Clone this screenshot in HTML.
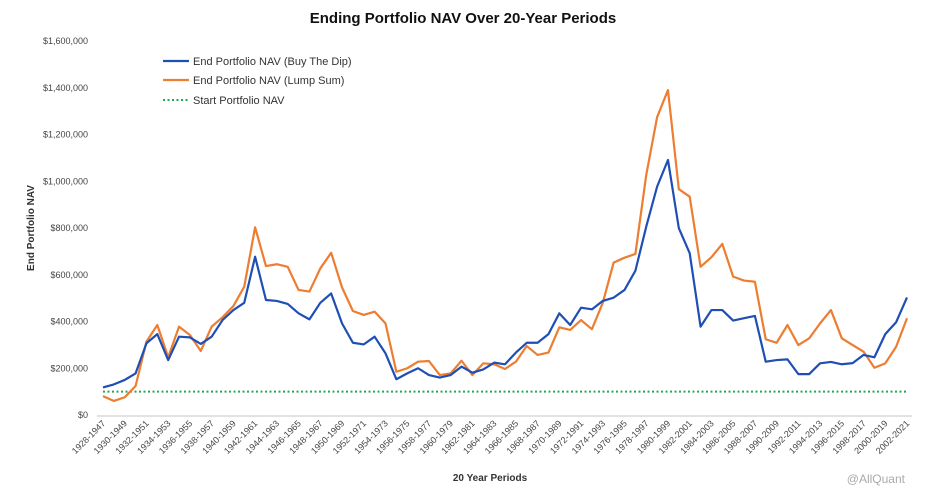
<!DOCTYPE html>
<html><head><meta charset="utf-8"><style>
body{margin:0;background:#fff;}
svg{display:block;font-family:"Liberation Sans",sans-serif;}
</style></head><body>
<svg id="chart" width="925" height="500">
<text x="463" y="23" text-anchor="middle" font-size="15" font-weight="bold" fill="#111">Ending Portfolio NAV Over 20-Year Periods</text>
<text transform="translate(34,228) rotate(-90)" text-anchor="middle" font-size="10" font-weight="bold" fill="#333">End Portfolio NAV</text>
<text x="490" y="481" text-anchor="middle" font-size="10" font-weight="bold" fill="#333">20 Year Periods</text>
<g>
<line x1="163" y1="61" x2="189" y2="61" stroke="#1f4fb4" stroke-width="2.2"/>
<text x="193" y="65" font-size="11" fill="#333">End Portfolio NAV (Buy The Dip)</text>
<line x1="163" y1="80" x2="189" y2="80" stroke="#ed7d31" stroke-width="2.2"/>
<text x="193" y="84" font-size="11" fill="#333">End Portfolio NAV (Lump Sum)</text>
<line x1="163" y1="100" x2="189" y2="100" stroke="#22a94f" stroke-width="2" stroke-dasharray="2,2.5"/>
<text x="193" y="104" font-size="11" fill="#333">Start Portfolio NAV</text>
</g>
<text x="905" y="483" text-anchor="end" font-size="12" fill="#aaa">@AllQuant</text>
</svg>
<script>
const startYears = [];
for (let y = 1928; y <= 2002; y++) startYears.push(y);
const buyTheDip = [118,131,150,178,307,346,235,335,332,304,335,406,449,480,677,492,488,475,435,409,480,520,392,309,302,335,264,153,178,200,171,160,171,207,181,195,224,217,267,309,309,346,435,385,459,452,488,502,535,617,806,977,1091,799,692,378,449,449,404,414,424,228,235,238,175,175,221,227,217,222,257,247,346,397,503];
const lumpSum = [81,60,76,124,314,385,247,378,342,274,378,418,466,549,803,637,645,634,535,528,627,694,546,445,428,442,392,185,200,228,231,171,178,232,171,221,217,197,228,295,257,267,375,364,406,367,480,652,673,689,1027,1274,1390,966,934,634,675,732,592,575,570,324,309,385,299,328,392,449,328,299,271,202,221,292,414];
const startNav = 100;
const yTicks = [0,200,400,600,800,1000,1200,1400,1600];

const svg = document.getElementById('chart');
const NS = 'http://www.w3.org/2000/svg';
const x0 = 103, x1 = 907, yBase = 415, yTop = 41;
const xs = i => x0 + (x1 - x0) * i / (startYears.length - 1);
const ys = v => yBase - (yBase - yTop) * v / 1600;

function mk(tag, attrs) { const e = document.createElementNS(NS, tag); for (const k in attrs) e.setAttribute(k, attrs[k]); svg.appendChild(e); return e; }

const axis = mk('line', {x1: 97, y1: yBase + 1, x2: 912, y2: yBase + 1, stroke: '#d9d9d9', 'stroke-width': 1.5});



yTicks.forEach(v => {
  const t = mk('text', {x: 88, y: ys(v) + 3, 'text-anchor': 'end', 'font-size': 9, fill: '#444'});
  t.textContent = '$' + (v * 1000).toLocaleString('en-US');
  
  
});

startYears.forEach((y, i) => {
  if (i % 2) return;
  const x = xs(i) + 3, yy = 424;
  const t = mk('text', {x: x, y: yy, 'text-anchor': 'end', 'font-size': 9, fill: '#444', transform: `rotate(-45 ${x} ${yy})`});
  t.textContent = y + '-' + (y + 19);
  
  
});

const sl = mk('line', {x1: xs(0), y1: ys(startNav), x2: xs(startYears.length - 1), y2: ys(startNav), stroke: '#22a94f', 'stroke-width': 2, 'stroke-dasharray': '2,2.5'});



const lp = mk('polyline', {points: lumpSum.map((v, i) => xs(i) + ',' + ys(v)).join(' '), fill: 'none', stroke: '#ed7d31', 'stroke-width': 2.2, 'stroke-linejoin': 'round'});



const bp = mk('polyline', {points: buyTheDip.map((v, i) => xs(i) + ',' + ys(v)).join(' '), fill: 'none', stroke: '#1f4fb4', 'stroke-width': 2.2, 'stroke-linejoin': 'round'});


</script>
</body></html>
